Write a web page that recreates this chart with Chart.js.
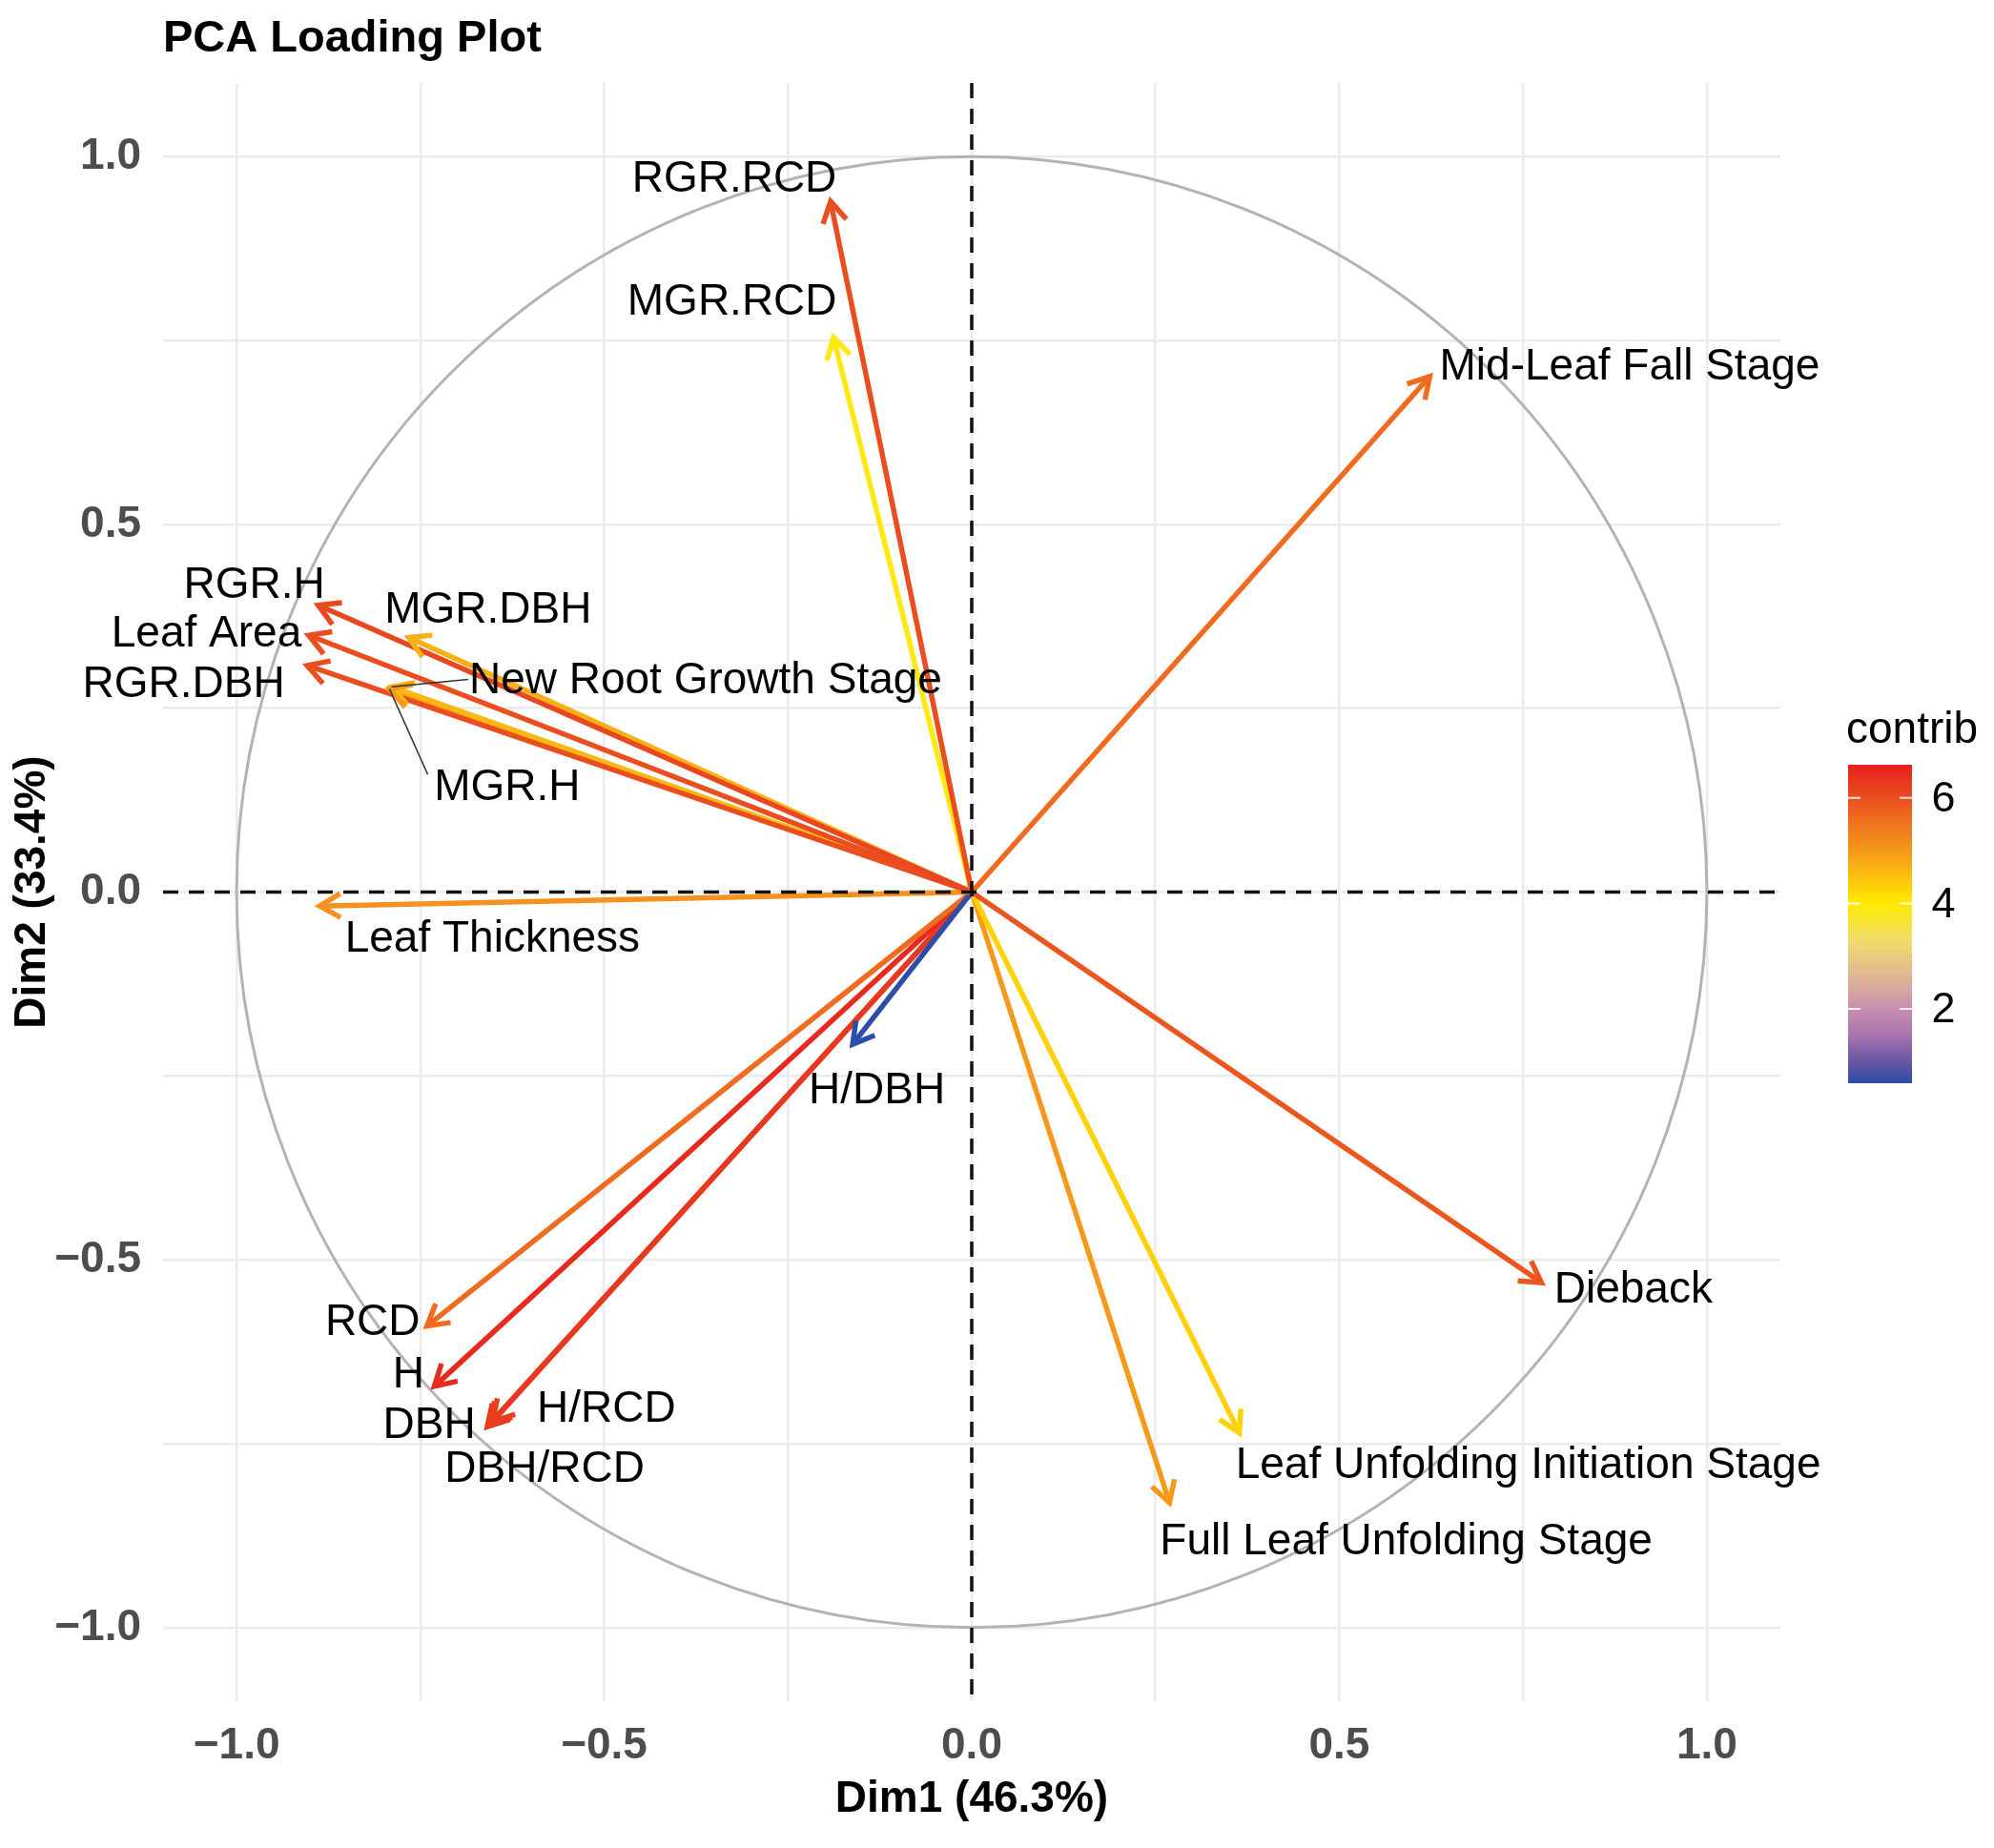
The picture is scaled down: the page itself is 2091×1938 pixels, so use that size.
<!DOCTYPE html>
<html lang="en">
<head>
<meta charset="UTF-8" />
<title>PCA Loading Plot</title>
<script src="https://cdn.jsdelivr.net/npm/chart.js@4.4.1/dist/chart.umd.min.js"></script>
<style>
  html, body { margin: 0; padding: 0; background: #fff; overflow: hidden; }
  #wrap { width: 2091px; height: 1938px; position: relative; }
</style>
</head>
<body>
<div id="wrap"><canvas id="chart"></canvas></div>
<script>
// variable loadings on the first two dimensions
const variables = ['RGR.RCD', 'MGR.RCD', 'Mid-Leaf Fall Stage', 'RGR.H', 'Leaf Area', 'RGR.DBH',
  'MGR.DBH', 'New Root Growth Stage', 'MGR.H', 'Leaf Thickness', 'H/DBH', 'RCD', 'H',
  'DBH', 'H/RCD', 'DBH/RCD', 'Dieback', 'Leaf Unfolding Initiation Stage', 'Full Leaf Unfolding Stage'];
const dim1 = [-0.192, -0.188, 0.623, -0.889, -0.902, -0.904,
  -0.766, -0.789, -0.792, -0.887, -0.162, -0.741, -0.731,
  -0.659, -0.652, -0.656, 0.775, 0.364, 0.269];
const dim2 = [0.939, 0.754, 0.701, 0.390, 0.349, 0.308,
  0.346, 0.279, 0.276, -0.019, -0.207, -0.590, -0.672,
  -0.727, -0.720, -0.724, -0.531, -0.735, -0.830];
const contrib = [6.0, 3.9, 5.6, 6.1, 6.0, 6.0,
  4.7, 4.6, 5.0, 5.1, 0.6, 5.6, 6.5,
  6.3, 6.2, 6.2, 5.9, 4.3, 5.0];

const tickValues = [-1, -0.75, -0.5, -0.25, 0, 0.25, 0.5, 0.75, 1];
const tickLabels = ['\u22121.0', '', '\u22120.5', '', '0.0', '', '0.5', '', '1.0'];
const legendTicks = [2, 4, 6];
const contribRange = [0.59, 6.63];

// where the repelled labels sit (data units) and the two leader lines
const labelSpots = {
  'RGR.RCD': [-0.323, 0.974], 'MGR.RCD': [-0.326, 0.806], 'Mid-Leaf Fall Stage': [0.895, 0.718],
  'RGR.H': [-0.976, 0.422], 'Leaf Area': [-1.041, 0.356], 'RGR.DBH': [-1.072, 0.287],
  'MGR.DBH': [-0.658, 0.388], 'New Root Growth Stage': [-0.362, 0.292], 'MGR.H': [-0.632, 0.147],
  'Leaf Thickness': [-0.652, -0.059], 'H/DBH': [-0.129, -0.265], 'RCD': [-0.815, -0.580],
  'H': [-0.766, -0.652], 'DBH': [-0.738, -0.721], 'H/RCD': [-0.497, -0.699],
  'DBH/RCD': [-0.581, -0.780], 'Dieback': [0.900, -0.536],
  'Leaf Unfolding Initiation Stage': [0.757, -0.775], 'Full Leaf Unfolding Stage': [0.591, -0.879]
};
const leaders = { 'New Root Growth Stage': [-0.685, 0.289], 'MGR.H': [-0.740, 0.160] };

// contrib colour gradient (blue -> purple -> yellow -> red)
const gradientStops = [[0.59, '#2B4EA8'], [1.0, '#6857A4'], [1.5, '#A774AE'], [2.0, '#C98FB0'],
  [2.7, '#E2BB90'], [3.3, '#F0DC6A'], [4.0, '#FFEA00'], [4.4, '#FDC80C'], [4.9, '#F7A01A'],
  [5.5, '#F0741F'], [6.0, '#EA4E1F'], [6.63, '#E6201E']];

function hexRgb(h) {
  return [parseInt(h.slice(1, 3), 16), parseInt(h.slice(3, 5), 16), parseInt(h.slice(5, 7), 16)];
}
function colourFor(v) {
  if (v <= gradientStops[0][0]) return gradientStops[0][1];
  for (let i = 1; i < gradientStops.length; i++) {
    if (v <= gradientStops[i][0]) {
      const [v0, c0] = gradientStops[i - 1], [v1, c1] = gradientStops[i];
      const t = (v - v0) / (v1 - v0);
      const a = hexRgb(c0), b = hexRgb(c1);
      return 'rgb(' + a.map((x, k) => Math.round(x + (b[k] - x) * t)).join(',') + ')';
    }
  }
  return gradientStops[gradientStops.length - 1][1];
}

const FONT = '"Liberation Sans", Arial, Helvetica, sans-serif';
const ARROW_W = 5.5;

const datasets = variables.map((name, i) => ({
  label: name,
  data: [{ x: 0, y: 0 }, { x: dim1[i], y: dim2[i] }],
  showLine: true,
  borderColor: colourFor(contrib[i]),
  borderWidth: ARROW_W,
  pointRadius: 0,
  pointHoverRadius: 0
}));

const loadingPlot = {
  id: 'loadingPlot',
  beforeDatasetsDraw(chart) {
    const { ctx, scales: { x, y } } = chart;
    const cx = x.getPixelForValue(0), cy = y.getPixelForValue(0);
    const rx = x.getPixelForValue(1) - cx, ry = cy - y.getPixelForValue(1);
    ctx.save();
    ctx.strokeStyle = '#B3B3B3';
    ctx.lineWidth = 3;
    ctx.beginPath();
    ctx.ellipse(cx, cy, rx, ry, 0, 0, Math.PI * 2);
    ctx.stroke();
    ctx.restore();
  },
  afterDatasetsDraw(chart) {
    const { ctx, chartArea: a, scales: { x, y } } = chart;
    ctx.save();
    // arrow heads
    chart.data.datasets.forEach((ds, i) => {
      const pts = chart.getDatasetMeta(i).data;
      const p0 = pts[0], p1 = pts[1];
      const ang = Math.atan2(p1.y - p0.y, p1.x - p0.x);
      const len = 25, spread = Math.PI / 6;
      ctx.strokeStyle = ds.borderColor;
      ctx.lineWidth = ARROW_W;
      ctx.lineJoin = 'miter';
      ctx.beginPath();
      ctx.moveTo(p1.x - len * Math.cos(ang - spread), p1.y - len * Math.sin(ang - spread));
      ctx.lineTo(p1.x, p1.y);
      ctx.lineTo(p1.x - len * Math.cos(ang + spread), p1.y - len * Math.sin(ang + spread));
      ctx.stroke();
    });
    // dashed reference lines
    const cx = x.getPixelForValue(0), cy = y.getPixelForValue(0);
    ctx.strokeStyle = '#111';
    ctx.lineWidth = 3.5;
    ctx.setLineDash([16, 11]);
    ctx.beginPath();
    ctx.moveTo(cx, a.top); ctx.lineTo(cx, a.bottom);
    ctx.moveTo(a.left, cy); ctx.lineTo(a.right, cy);
    ctx.stroke();
    ctx.setLineDash([]);
    // leader lines
    ctx.strokeStyle = '#333';
    ctx.lineWidth = 1.5;
    Object.keys(leaders).forEach(name => {
      const i = variables.indexOf(name);
      ctx.beginPath();
      ctx.moveTo(x.getPixelForValue(dim1[i]), y.getPixelForValue(dim2[i]));
      ctx.lineTo(x.getPixelForValue(leaders[name][0]), y.getPixelForValue(leaders[name][1]));
      ctx.stroke();
    });
    // labels
    ctx.fillStyle = '#000';
    ctx.font = '46px ' + FONT;
    ctx.textAlign = 'center';
    ctx.textBaseline = 'middle';
    variables.forEach(name => {
      const s = labelSpots[name];
      ctx.fillText(name, x.getPixelForValue(s[0]), y.getPixelForValue(s[1]) + 4);
    });
    ctx.restore();
  },
  afterDraw(chart) {
    const { ctx } = chart;
    ctx.save();
    // title
    ctx.fillStyle = '#000';
    ctx.font = 'bold 47px ' + FONT;
    ctx.textAlign = 'left';
    ctx.textBaseline = 'middle';
    ctx.fillText('PCA Loading Plot', 171, 41);
    // colour bar legend
    const bx = 1938, bw = 67, top = 802, bottom = 1136;
    const vToY = v => bottom - (v - contribRange[0]) / (contribRange[1] - contribRange[0]) * (bottom - top);
    const g = ctx.createLinearGradient(0, bottom, 0, top);
    gradientStops.forEach(([v, c]) => {
      g.addColorStop(Math.min(1, Math.max(0, (v - contribRange[0]) / (contribRange[1] - contribRange[0]))), c);
    });
    ctx.fillStyle = g;
    ctx.fillRect(bx, top, bw, bottom - top);
    ctx.strokeStyle = 'rgba(255,255,255,0.85)';
    ctx.lineWidth = 2;
    ctx.fillStyle = '#000';
    ctx.font = '45px ' + FONT;
    ctx.textAlign = 'center';
    legendTicks.forEach(v => {
      const ty = vToY(v);
      ctx.beginPath();
      ctx.moveTo(bx, ty); ctx.lineTo(bx + 13, ty);
      ctx.moveTo(bx + bw - 13, ty); ctx.lineTo(bx + bw, ty);
      ctx.stroke();
      ctx.fillText(String(v), 2038, ty + 2);
    });
    ctx.font = '46px ' + FONT;
    ctx.textAlign = 'left';
    ctx.fillText('contrib', 1936, 766);
    ctx.restore();
  }
};

function axis(title, isX) {
  return {
    type: 'linear',
    min: -1.1,
    max: 1.1,
    afterBuildTicks: s => { s.ticks = tickValues.map(v => ({ value: v })); },
    afterFit: s => { if (isX) s.height = 154; else s.width = 171; },
    ticks: {
      callback: (v, i) => tickLabels[i],
      font: { family: FONT, size: 46, weight: 'bold' },
      color: '#4D4D4D',
      padding: isX ? 20 : 23,
      autoSkip: false,
      maxRotation: 0
    },
    grid: { color: '#EBEBEB', lineWidth: 2.5, drawTicks: false },
    border: { display: false },
    title: {
      display: true,
      text: title,
      color: '#000',
      font: { family: FONT, size: 46, weight: 'bold' },
      padding: isX ? { top: 0, bottom: 23 } : { top: 7, bottom: 0 }
    }
  };
}

new Chart(document.getElementById('chart').getContext('2d'), {
  type: 'scatter',
  data: { datasets },
  options: {
    responsive: true,
    maintainAspectRatio: false,
    devicePixelRatio: 1,
    animation: false,
    layout: { padding: { top: 87, right: 224, bottom: 0, left: 0 } },
    plugins: { legend: { display: false }, tooltip: { enabled: false }, title: { display: false } },
    scales: { x: axis('Dim1 (46.3%)', true), y: axis('Dim2 (33.4%)', false) }
  },
  plugins: [loadingPlot]
});
</script>
</body>
</html>
